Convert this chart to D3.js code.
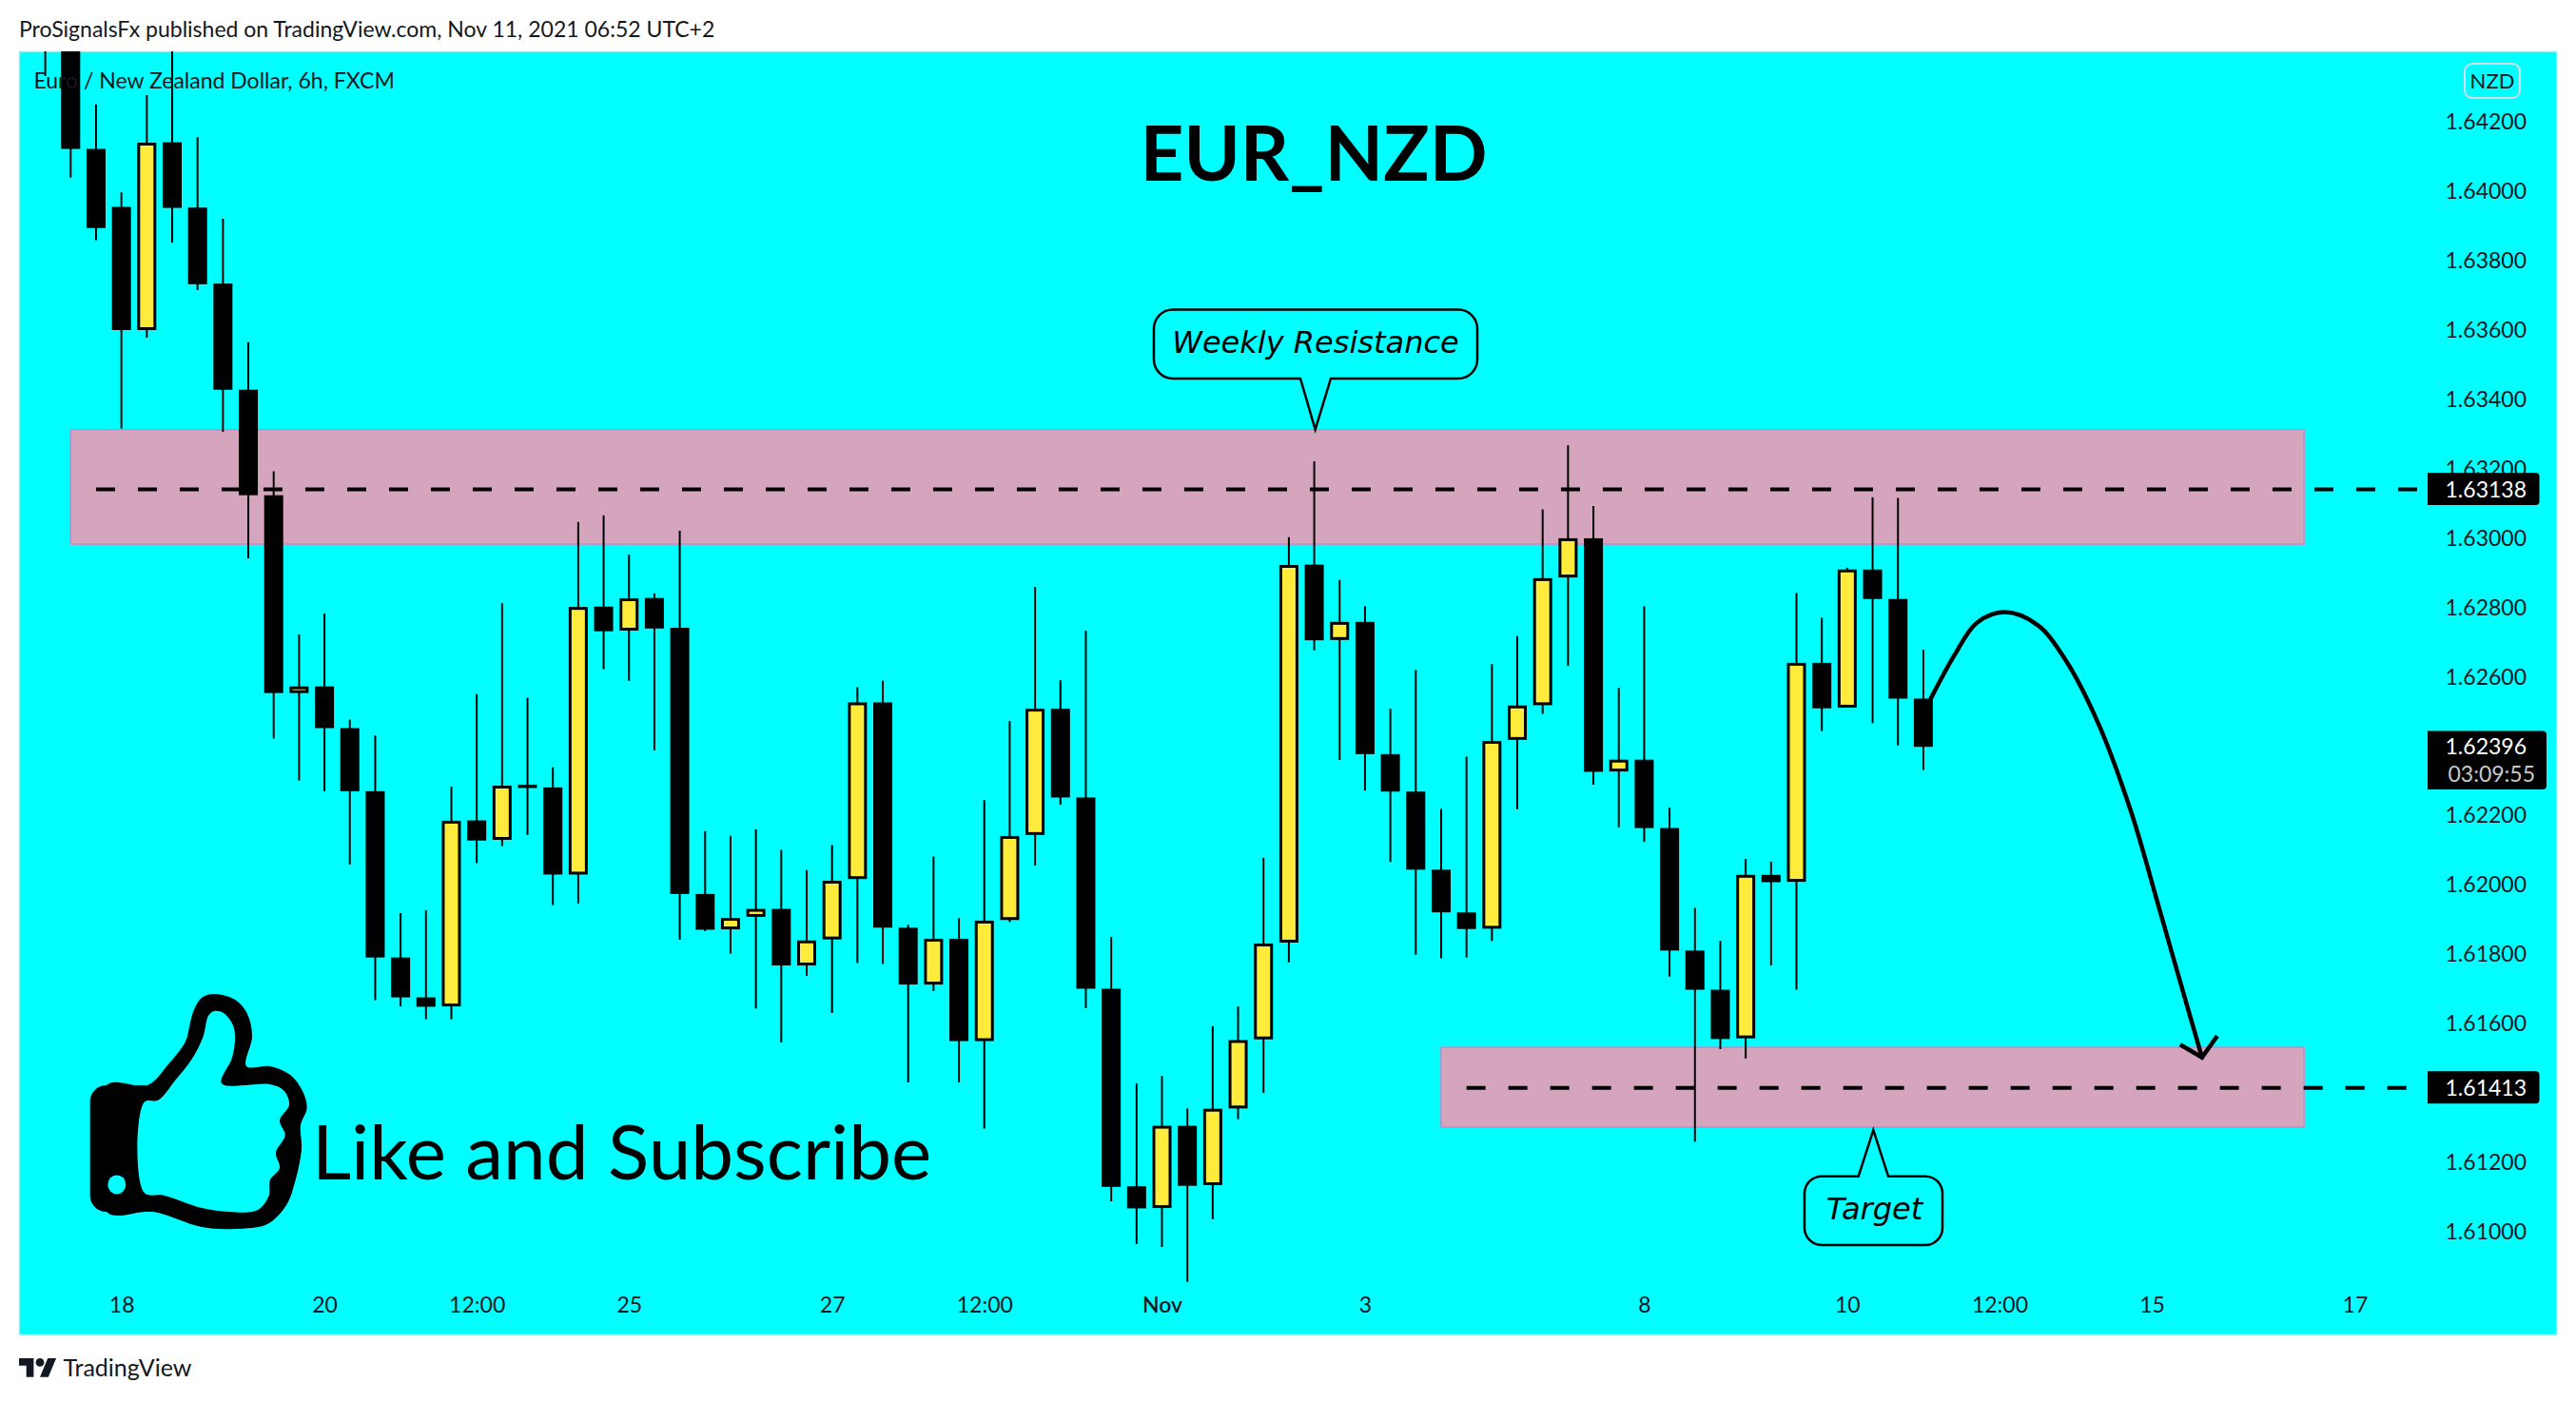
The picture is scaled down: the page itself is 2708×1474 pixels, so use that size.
<!DOCTYPE html>
<html><head><meta charset="utf-8">
<script src="https://cdn.jsdelivr.net/npm/d3@7"></script>
<style>html,body{margin:0;padding:0;background:#fff}svg{display:block}</style>
</head><body><div id="chart"></div>
<script>
const opens=[1.64521,1.64466,1.64119,1.63952,1.63597,1.64138,1.63950,1.63731,1.63425,1.63121,1.62551,1.62570,1.62450,1.62268,1.61789,1.61674,1.61648,1.62184,1.62128,1.62287,1.62279,1.62028,1.62800,1.62731,1.62825,1.62739,1.61972,1.61870,1.61906,1.61929,1.61766,1.61841,1.62015,1.62524,1.61875,1.61711,1.61843,1.61548,1.61897,1.62142,1.62506,1.62250,1.61699,1.61130,1.61067,1.61304,1.61133,1.61354,1.61553,1.61832,1.62921,1.62704,1.62756,1.62375,1.62267,1.62042,1.61919,1.61872,1.62416,1.62516,1.62884,1.62997,1.62325,1.62359,1.62162,1.61809,1.61696,1.61556,1.62027,1.62007,1.62638,1.62509,1.62907,1.62822,1.62535];
const highs=[1.64548,1.64500,1.64247,1.63994,1.64274,1.64438,1.64153,1.63918,1.63562,1.63190,1.62720,1.62780,1.62474,1.62429,1.61917,1.61925,1.62281,1.62548,1.62810,1.62537,1.62337,1.63044,1.63063,1.62950,1.62838,1.63019,1.62153,1.62140,1.62158,1.62099,1.62041,1.62113,1.62568,1.62586,1.61883,1.62080,1.61902,1.62243,1.62470,1.62857,1.62588,1.62731,1.61848,1.61426,1.61448,1.61354,1.61591,1.61648,1.62076,1.63000,1.63219,1.62877,1.62801,1.62506,1.62617,1.62217,1.62368,1.62634,1.62715,1.63080,1.63265,1.63090,1.62566,1.62801,1.62221,1.61932,1.61837,1.62073,1.62065,1.62839,1.62768,1.62912,1.63115,1.63113,1.62676];
const lows=[1.64329,1.64036,1.63856,1.63313,1.63575,1.63849,1.63712,1.63304,1.62939,1.62420,1.62299,1.62268,1.62057,1.61666,1.61648,1.61611,1.61611,1.62061,1.62110,1.62142,1.61940,1.61944,1.62620,1.62586,1.62386,1.61840,1.61865,1.61800,1.61642,1.61544,1.61736,1.61629,1.61773,1.61770,1.61429,1.61692,1.61429,1.61296,1.61891,1.62054,1.62229,1.61643,1.61086,1.60963,1.60955,1.60854,1.61035,1.61323,1.61399,1.61775,1.62674,1.62358,1.62270,1.62064,1.61797,1.61787,1.61789,1.61837,1.62216,1.62491,1.62629,1.62287,1.62164,1.62122,1.61734,1.61258,1.61525,1.61498,1.61766,1.61696,1.62441,1.62509,1.62464,1.62400,1.62329];
const closes=[1.64466,1.64119,1.63891,1.63597,1.64137,1.63949,1.63729,1.63425,1.63121,1.62551,1.62570,1.62450,1.62268,1.61789,1.61674,1.61647,1.62183,1.62126,1.62284,1.62279,1.62028,1.62799,1.62729,1.62824,1.62737,1.61972,1.61869,1.61903,1.61929,1.61766,1.61838,1.62010,1.62524,1.61875,1.61711,1.61843,1.61548,1.61895,1.62139,1.62506,1.62250,1.61699,1.61128,1.61066,1.61304,1.61131,1.61353,1.61551,1.61829,1.62920,1.62703,1.62756,1.62375,1.62267,1.62042,1.61919,1.61871,1.62413,1.62515,1.62882,1.62997,1.62324,1.62359,1.62162,1.61809,1.61696,1.61554,1.62027,1.62006,1.62638,1.62507,1.62907,1.62822,1.62535,1.62396];

const priceTicks=[1.642,1.640,1.638,1.636,1.634,1.632,1.630,1.628,1.626,1.624,1.622,1.620,1.618,1.616,1.614,1.612,1.610];
const timeTickBars=[3,11,17,23,31,37,44,52,63,71,77,83,91];
const timeTickLabels=["18","20","12:00","25","27","12:00","Nov","3","8","10","12:00","15","17"];

const zoneBars=[[1,89],[55,89]];
const zonePrices=[[1.63310,1.62980],[1.61530,1.61300]];
const levelPrices=[1.63138,1.61413];
const levelStartBars=[2,56];
const lastPrice=1.62396;
const countdown="03:09:55";
const curveBars=[74.3,75.24,76.1,77.2,78.5,79.57,80.86,82.18,83.26,84.12,84.98];
const curvePrices=[1.62536,1.62662,1.62753,1.62784,1.62747,1.62650,1.62469,1.62210,1.61939,1.61719,1.61501];
const headBars=[84.12,84.98,85.58];
const headPrices=[1.61538,1.61501,1.61563];

const W=2708,H=1474,P={l:20,r:2688,t:54,b:1403.5};
const BG="#00ffff",INK="#131722",BULL="#ffeb3b",ZONE="#d5a5bd",ZONEB="#c788c4";
const FONT='"Lato","Noto Sans",sans-serif';
const OBL='"DejaVu Sans",sans-serif';

const x=d3.scaleLinear().domain([0,74]).range([47.6,2021.9]);
const y=d3.scaleLinear().domain([1.642,1.610]).range([127,1294.5]);
const svg=d3.select("#chart").append("svg").attr("width",W).attr("height",H).attr("viewBox",`0 0 ${W} ${H}`);
svg.append("rect").attr("width",W).attr("height",H).attr("fill","#fff");
svg.append("rect").attr("x",P.l).attr("y",P.t).attr("width",P.r-P.l).attr("height",P.b-P.t).attr("fill",BG).attr("stroke","#c8f5f5").attr("stroke-width",1.5);
svg.append("clipPath").attr("id","plot").append("rect").attr("x",P.l).attr("y",P.t).attr("width",P.r-P.l).attr("height",P.b-P.t);

svg.append("text").attr("x",20).attr("y",39).attr("font-family",FONT).attr("font-size",23).attr("fill",INK).attr("id","hdr").text("ProSignalsFx published on TradingView.com, Nov 11, 2021 06:52 UTC+2");

// axes
const yAxis=svg.append("g").attr("transform","translate(2656,0)").call(d3.axisRight(y).tickValues(priceTicks).tickFormat(d3.format(".5f")).tickSize(0));
yAxis.select(".domain").remove();
yAxis.selectAll("text").attr("x",0).attr("dy","0.36em").attr("text-anchor","end").attr("font-family",FONT).attr("font-size",23).attr("fill",INK);
const xAxis=svg.append("g").attr("transform","translate(0,1364)").call(d3.axisBottom(x).tickValues(timeTickBars).tickFormat((d,i)=>timeTickLabels[i]).tickSize(0));
xAxis.select(".domain").remove();
xAxis.selectAll("text").attr("y",0).attr("dy","0.71em").attr("font-family",FONT).attr("font-size",23).attr("fill",INK)
  .attr("font-weight",(d,i)=>timeTickLabels[i]==="Nov"?600:400);

const plot=svg.append("g").attr("clip-path","url(#plot)");
// zones
plot.selectAll(".zone").data(zoneBars).join("rect").attr("class","zone")
 .attr("x",d=>x(d[0])).attr("width",d=>x(d[1])-x(d[0]))
 .attr("y",(d,i)=>y(zonePrices[i][0])).attr("height",(d,i)=>y(zonePrices[i][1])-y(zonePrices[i][0]))
 .attr("fill",ZONE).attr("stroke",ZONEB).attr("stroke-width",1.5);
// candles
const idx=d3.range(opens.length);
plot.selectAll(".wick").data(idx).join("line").attr("class","wick")
 .attr("x1",i=>x(i)).attr("x2",i=>x(i)).attr("y1",i=>y(highs[i])).attr("y2",i=>y(lows[i]))
 .attr("stroke","#000").attr("stroke-width",2);
plot.selectAll(".body").data(idx).join("rect").attr("class","body")
 .attr("x",i=>x(i)-8.5).attr("width",17)
 .attr("y",i=>y(Math.max(opens[i],closes[i]))+1.5)
 .attr("height",i=>Math.max(0.5,y(Math.min(opens[i],closes[i]))-y(Math.max(opens[i],closes[i]))-3))
 .attr("fill",i=>closes[i]>opens[i]?BULL:"#000").attr("stroke","#000").attr("stroke-width",3);
// dashed levels
plot.selectAll(".lvl").data(levelPrices).join("line").attr("class","lvl")
 .attr("x1",(d,i)=>x(levelStartBars[i])).attr("x2",2552).attr("y1",d=>y(d)).attr("y2",d=>y(d))
 .attr("stroke","#000").attr("stroke-width",4).attr("stroke-dasharray","20 24");

// legend over the candles
svg.append("text").attr("x",35.5).attr("y",93).attr("font-family",FONT).attr("font-size",23).attr("fill",INK).attr("id","leg").text("Euro / New Zealand Dollar, 6h, FXCM");

// title
svg.append("text").attr("x",1381).attr("y",190).attr("text-anchor","middle").attr("font-family",FONT).attr("font-weight",700).attr("font-size",80).attr("fill","#000").attr("id","ttl").text("EUR_NZD");

// callouts
function callout(bx0,by0,bx1,by1,r,tx0,tx1,tip,tipY,up){
  const p=d3.path();
  p.moveTo(bx0+r,by0);
  if(up){p.lineTo(tx0,by0);p.lineTo(tip,tipY);p.lineTo(tx1,by0);}
  p.lineTo(bx1-r,by0);p.arcTo(bx1,by0,bx1,by0+r,r);
  p.lineTo(bx1,by1-r);p.arcTo(bx1,by1,bx1-r,by1,r);
  if(!up){p.lineTo(tx1,by1);p.lineTo(tip,tipY);p.lineTo(tx0,by1);}
  p.lineTo(bx0+r,by1);p.arcTo(bx0,by1,bx0,by1-r,r);
  p.lineTo(bx0,by0+r);p.arcTo(bx0,by0,bx0+r,by0,r);p.closePath();
  svg.append("path").attr("d",p.toString()).attr("fill",BG).attr("stroke","#000").attr("stroke-width",2.5).attr("stroke-linejoin","miter");
}
callout(1213,325.5,1553,398,20,1367,1399,x(50.04),y(zonePrices[0][0]),false);
svg.append("text").attr("x",1383).attr("y",371).attr("text-anchor","middle").attr("font-family",OBL).attr("font-style","italic").attr("font-size",32).attr("fill","#000").text("Weekly Resistance");
callout(1897,1236.7,2042,1309,18,1953.7,1985,x(72.03),y(zonePrices[1][1])+3,true);
svg.append("text").attr("x",1970.5).attr("y",1281.7).attr("text-anchor","middle").attr("font-family",OBL).attr("font-style","italic").attr("font-size",32).attr("fill","#000").text("Target");

// forecast curve
const lineGen=d3.line().x(d=>x(d[0])).y(d=>y(d[1]));
svg.append("path").attr("d",lineGen.curve(d3.curveCatmullRom)(curveBars.map((b,i)=>[b,curvePrices[i]])))
 .attr("fill","none").attr("stroke","#000").attr("stroke-width",4.5).attr("stroke-linecap","round");
svg.append("path").attr("d",d3.line().x(d=>x(d[0])).y(d=>y(d[1]))(headBars.map((b,i)=>[b,headPrices[i]])))
 .attr("fill","none").attr("stroke","#000").attr("stroke-width",4.5).attr("stroke-linejoin","miter");

// price tags
function tag(price,y0,y1,xr){
  const r=4,xl=2552,p=d3.path();
  p.moveTo(xl,y0);p.lineTo(xr-r,y0);p.arcTo(xr,y0,xr,y0+r,r);p.lineTo(xr,y1-r);p.arcTo(xr,y1,xr-r,y1,r);p.lineTo(xl,y1);p.closePath();
  svg.append("path").attr("d",p.toString()).attr("fill","#000");
  svg.append("text").attr("x",2656).attr("y",y(price)).attr("dy","0.36em").attr("text-anchor","end").attr("font-family",FONT).attr("font-size",23).attr("fill","#fff").text(d3.format(".5f")(price));
}
levelPrices.forEach(v=>tag(v,y(v)-17.5,y(v)+16.5,2669.5));
tag(lastPrice,768.6,830,2677);
svg.append("text").attr("x",2665).attr("y",813.5).attr("dy","0.36em").attr("text-anchor","end").attr("font-family",FONT).attr("font-size",23).attr("fill","#c9c9c9").text(countdown);

// currency badge
svg.append("rect").attr("x",2591).attr("y",67).attr("width",58).attr("height",36).attr("rx",8).attr("fill","none").attr("stroke","#d6dce6").attr("stroke-width",2);
svg.append("text").attr("x",2620).attr("y",85).attr("dy","0.36em").attr("text-anchor","middle").attr("font-family",FONT).attr("font-size",22).attr("fill",INK).text("NZD");

// thumb icon
const thumbOuter=[[112,1141],[155,1141],[176,1120],[195,1095],[199,1080],[203,1064],[212,1049],[225,1045],[247,1051],[260,1066],[265,1090],[259,1121],[284,1121],[305,1130],[318,1147],[322.6,1165],[316,1183],[317,1208],[310,1243],[301,1267],[281,1287],[247,1292],[212,1290],[161,1274],[112,1274]];
const thumbInner=[[151.5,1159],[166.5,1156.6],[184,1136],[201,1114.6],[213.5,1090],[219,1068],[225,1063],[235,1065],[245,1078],[247,1092],[244,1112],[233,1139],[284,1140],[298.5,1146.7],[304,1161.5],[294,1178],[299.7,1193.6],[290,1212],[294,1228],[284,1240.5],[282.4,1257.8],[270,1272.6],[241,1274],[212,1270],[172,1256.8],[151.5,1253.8]];
const rounded=pts=>d3.line().curve(d3.curveCatmullRomClosed.alpha(0.5))(pts);
const cuff=d3.path();cuff.moveTo(112,1141);cuff.arcTo(94.7,1141,94.7,1158,17);cuff.lineTo(94.7,1257);cuff.arcTo(94.7,1274,112,1274,17);cuff.lineTo(160,1274);cuff.lineTo(160,1141);cuff.closePath();
svg.append("path").attr("d",rounded(thumbOuter)).attr("fill","#000");
svg.append("path").attr("d",cuff.toString()).attr("fill","#000");
svg.append("path").attr("d",d3.line().curve(d3.curveCatmullRomClosed.alpha(0.5))(thumbInner)).attr("fill",BG);
svg.append("ellipse").attr("cx",122.8).attr("cy",1245.4).attr("rx",9.5).attr("ry",10).attr("fill",BG);
svg.append("text").attr("x",328).attr("y",1240).attr("font-family",FONT).attr("font-size",80).attr("fill","#000").attr("id","like").text("Like and Subscribe");

// footer logo
const logo=svg.append("g").attr("transform","translate(20,1423.6) scale(1.1)").attr("fill",INK);
logo.append("path").attr("d","M14 22H7V11H0V4h14v18zM28 22h-8l7.5-18h8L28 22z");
logo.append("circle").attr("cx",20).attr("cy",8).attr("r",4);
svg.append("text").attr("x",66.5).attr("y",1446.7).attr("font-family",FONT).attr("font-size",25).attr("fill",INK).attr("id","tv").text("TradingView");
</script></body></html>
